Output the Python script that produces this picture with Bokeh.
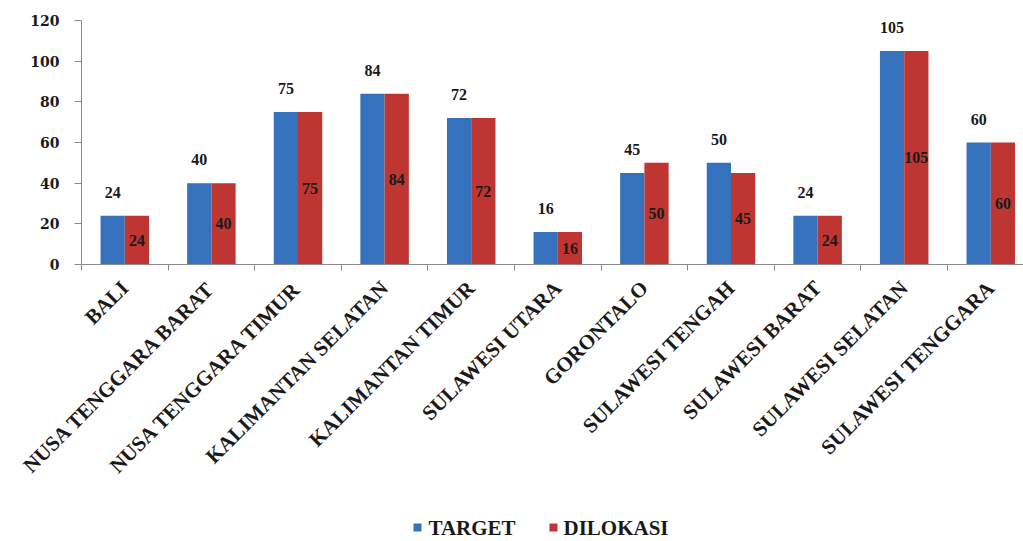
import math
from bokeh.plotting import figure
from bokeh.models import (ColumnDataSource, Range1d, FixedTicker, LabelSet, Label, Legend, LegendItem)
from bokeh.embed import file_html
from bokeh.resources import INLINE

categories = ["BALI", "NUSA TENGGARA BARAT", "NUSA TENGGARA TIMUR", "KALIMANTAN SELATAN",
              "KALIMANTAN TIMUR", "SULAWESI UTARA", "GORONTALO", "SULAWESI TENGAH",
              "SULAWESI BARAT", "SULAWESI SELATAN", "SULAWESI TENGGARA"]
target = [24, 40, 75, 84, 72, 16, 45, 50, 24, 105, 60]
dilokasi = [24, 40, 75, 84, 72, 16, 50, 45, 24, 105, 60]
series_names = ["TARGET", "DILOKASI"]
y_ticks = [0, 20, 40, 60, 80, 100, 120]
y_max = 120

n = len(categories)
centers = [i + 0.5 for i in range(n)]
bw = 0.28
src = ColumnDataSource(dict(
    xb=[c - bw / 2 for c in centers],
    xr=[c + bw / 2 for c in centers],
    target=target,
    dilokasi=dilokasi,
    half=[d / 2 for d in dilokasi],
    tl=[str(v) for v in target],
    dl=[str(v) for v in dilokasi],
))

# layout geometry (pixels): the frame covers the whole canvas,
# the value area runs from x=81 and from y=20 (top, 120) to y=264 (0)
W, H = 1023, 541
left_px, top_px, value_h, cat_px = 81, 20, 244, 86.6
x_start = -left_px / cat_px
x_end = (W - left_px) / cat_px
y_end = y_max + top_px * y_max / value_h
y_start = y_max - (H - top_px) * y_max / value_h


def px_x(px):
    return x_start + px / cat_px


def px_y(py):
    return y_end - py * y_max / value_h


p = figure(frame_width=W, frame_height=H, output_backend="svg", toolbar_location=None,
           x_range=Range1d(x_start, x_end), y_range=Range1d(y_start, y_end),
           min_border=0, min_border_left=0, min_border_right=0, min_border_top=0,
           min_border_bottom=0)
p.outline_line_color = None
p.xgrid.visible = False
p.ygrid.visible = False
p.background_fill_color = "white"
p.border_fill_color = "white"

blue = "#3571BC"
red = "#BE3532"
rb = p.vbar(x="xb", top="target", width=bw, source=src, fill_color=blue, line_color=None)
rr = p.vbar(x="xr", top="dilokasi", width=bw, source=src, fill_color=red, line_color=None)

num_font = "DejaVu Serif"
p.add_layout(LabelSet(x="xb", y="target", text="tl", source=src, text_align="center",
                      text_baseline="alphabetic", y_offset=18, text_font=num_font,
                      text_font_style="bold", text_font_size="16px", text_color="#1a1a1a"))
p.add_layout(LabelSet(x="xr", y="half", text="dl", source=src, text_align="center",
                      text_baseline="middle", text_font=num_font,
                      text_font_style="bold", text_font_size="16px", text_color="#1a1a1a"))

# x axis pinned at zero
ax = p.xaxis[0]
ax.fixed_location = 0
ax.bounds = (0, n)
ax.ticker = FixedTicker(ticks=centers, minor_ticks=list(range(n + 1)))
ax.major_label_overrides = {c: lab for c, lab in zip(centers, categories)}
ax.major_label_orientation = math.pi / 4
ax.major_tick_out = 0
ax.major_tick_in = 0
ax.minor_tick_out = 6
ax.minor_tick_in = 0
ax.minor_tick_line_color = "#8a8a8a"
ax.axis_line_color = "#8a8a8a"
ax.major_label_text_font = "Liberation Serif"
ax.major_label_text_font_style = "bold"
ax.major_label_text_font_size = "21px"
ax.major_label_text_color = "#1a1a1a"
ax.major_label_standoff = 14

# y axis pinned at the first category boundary
ay = p.yaxis[0]
ay.fixed_location = 0
ay.bounds = (0, y_max)
ay.ticker = FixedTicker(ticks=y_ticks)
ay.minor_tick_line_color = None
ay.major_tick_out = 7
ay.major_tick_in = 0
ay.major_tick_line_color = "#8a8a8a"
ay.axis_line_color = "#8a8a8a"
ay.major_label_text_font = num_font
ay.major_label_text_font_style = "bold"
ay.major_label_text_font_size = "14px"
ay.major_label_text_color = "#1a1a1a"
ay.major_label_standoff = 15

# legend: one swatch legend per series (labels hidden), text drawn as serif labels
swatch_px = [412, 548]
text_px = [428, 563]
for name, rend, sx, tx in zip(series_names, [rb, rr], swatch_px, text_px):
    lg = Legend(items=[LegendItem(label=name, renderers=[rend])],
                orientation="horizontal", location=(sx, 2),
                label_text_alpha=0, label_text_font_size="21px",
                glyph_width=10, glyph_height=10, label_standoff=5,
                border_line_color=None, background_fill_alpha=0, margin=0, padding=0)
    p.add_layout(lg)
    p.add_layout(Label(x=px_x(tx), y=px_y(527), text=name, text_align="left",
                       text_baseline="middle", text_font="Liberation Serif",
                       text_font_style="bold", text_font_size="21px", text_color="#1a1a1a"))

open("out.html", "w").write(file_html(p, INLINE))
